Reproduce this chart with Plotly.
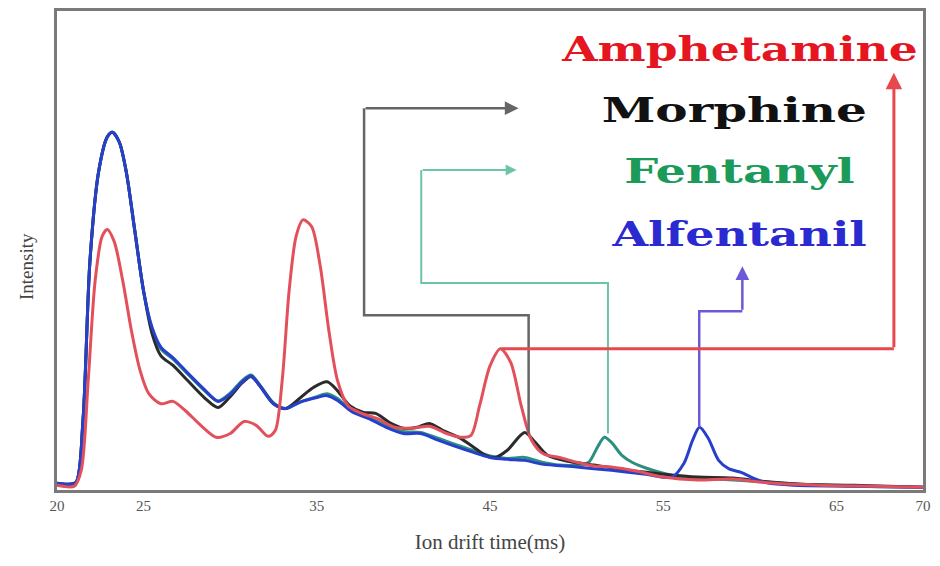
import plotly.graph_objects as go

# drift time (ms) / intensity (a.u.)
t_common = [20.0, 20.6, 21.1, 21.5, 21.9, 22.4, 22.9, 23.2, 23.6, 24.0, 24.5, 25.0, 25.5, 26.0,
            26.7, 27.5, 28.5, 29.3, 30.0, 30.7, 31.2, 31.7, 32.5, 33.2]

morphine_t = t_common + [34.0, 34.8, 35.6, 36.2, 36.9, 37.7, 38.4, 39.2, 40.0, 40.8, 41.5, 42.3,
                         43.2, 44.0, 44.7, 45.3, 46.0, 47.0, 47.6, 48.3, 49.5, 51.0, 53.0, 55.0,
                         57.0, 59.0, 61.0, 63.0, 66.0, 70.0]
morphine_i = [1.4, 1.2, 1.6, 14.5, 47.7, 66.4, 73.7, 74.7, 72.6, 66.4, 53.9, 41.5, 32.5, 28.0,
              26.0, 23.0, 19.3, 17.2, 19.5, 22.4, 23.7, 21.8, 18.0, 17.0,
              19.1, 21.4, 22.6, 20.7, 17.6, 16.2, 16.0, 14.1, 12.9, 13.1, 13.9, 12.4,
              11.0, 9.1, 7.3, 6.8, 8.3, 12.0, 10.0, 7.3, 6.0, 5.2, 4.1, 3.3,
              2.7, 2.5, 1.7, 1.2, 1.0, 0.6]

fentanyl_t = t_common + [34.0, 35.0, 35.6, 36.2, 37.0, 38.0, 39.0, 40.0, 41.0, 42.0, 43.0, 44.0,
                         45.0, 46.0, 47.0, 48.0, 49.0, 50.0, 50.7, 51.2, 51.6, 52.0, 52.6, 53.2,
                         54.0, 55.0, 56.0, 58.0, 60.0, 63.0, 66.0, 70.0]
fentanyl_i = [1.4, 1.2, 1.6, 14.5, 47.7, 66.4, 73.7, 74.7, 72.6, 66.4, 53.9, 41.5, 33.4, 29.4,
              27.3, 24.4, 20.8, 18.6, 20.2, 22.9, 24.0, 22.0, 18.2, 17.0,
              18.3, 19.5, 20.1, 19.1, 16.6, 15.1, 13.5, 12.2, 12.0, 10.8, 9.5, 8.3,
              7.1, 6.6, 6.8, 5.8, 5.2, 5.2, 5.8, 8.9, 11.0, 10.0, 7.3, 5.8,
              4.6, 3.5, 2.7, 2.3, 1.9, 1.2, 0.8, 0.6]

alfentanil_t = t_common + [34.0, 35.0, 35.6, 36.2, 37.0, 38.0, 39.0, 40.0, 41.0, 42.0, 43.0, 44.0,
                           45.0, 46.0, 47.0, 48.0, 50.0, 52.0, 54.0, 55.5, 56.2, 56.7, 57.1, 57.6,
                           58.2, 58.8, 59.5, 60.2, 61.0, 62.5, 66.0, 70.0]
alfentanil_i = [1.4, 1.2, 1.6, 14.5, 47.7, 66.4, 73.7, 74.7, 72.6, 66.4, 53.9, 41.5, 33.8, 29.8,
                27.6, 24.6, 21.0, 18.5, 20.0, 22.6, 23.8, 21.8, 18.0, 17.0,
                18.3, 19.3, 19.7, 18.7, 16.4, 14.9, 13.1, 11.8, 11.8, 10.4, 9.1, 7.9,
                6.8, 6.4, 6.2, 5.4, 4.8, 4.1, 3.3, 2.7, 5.6, 10.4, 13.1, 10.8,
                6.2, 4.4, 3.7, 2.5, 1.5, 1.0, 0.8, 0.6]

amphetamine_t = [20.0, 21.0, 21.4, 21.8, 22.2, 22.6, 22.9, 23.3, 23.8, 24.3, 24.8, 25.3, 26.0,
                 26.7, 27.4, 28.3, 29.2, 30.0, 30.8, 31.5, 32.2, 32.6, 33.0, 33.4, 33.8, 34.2,
                 34.7, 35.2, 35.7, 36.2, 36.8, 37.6, 38.5, 39.5, 40.5, 41.5, 42.5, 43.3, 43.9,
                 44.4, 45.0, 45.6, 46.2, 46.8, 47.4, 48.1, 49.0, 50.0, 51.0, 52.0, 53.5, 55.0,
                 57.0, 59.0, 61.0, 64.0, 70.0]
amphetamine_i = [1.0, 0.8, 4.1, 22.8, 43.6, 52.9, 54.4, 51.9, 43.6, 33.2, 24.9, 20.1, 18.0,
                 18.5, 16.6, 13.5, 11.0, 11.8, 14.3, 13.5, 11.2, 12.4, 22.8, 41.5, 52.9, 56.4,
                 55.0, 46.7, 33.2, 22.8, 17.6, 16.0, 14.9, 13.1, 12.9, 13.3, 11.8, 11.0, 11.4,
                 17.6, 25.9, 29.5, 26.6, 17.6, 10.4, 7.5, 6.8, 5.8, 5.0, 4.8, 3.9, 2.7,
                 2.1, 2.3, 1.5, 1.0, 0.6]

# bracket paths linking each characteristic peak to its label (last point = arrow tip)
morphine_link_t = [47.23, 47.23, 37.73, 37.73, 46.65]
morphine_link_i = [11.8, 36.5, 36.5, 79.7, 79.7]
fentanyl_link_t = [51.81, 51.81, 41.03, 41.03, 46.54]
fentanyl_link_i = [11.8, 43.2, 43.2, 66.8, 66.8]
amphetamine_link_t = [45.67, 68.32, 68.32]
amphetamine_link_i = [29.5, 29.5, 87.1]
alfentanil_link_t = [57.08, 57.08, 59.57, 59.57]
alfentanil_link_i = [13.1, 37.3, 37.3, 46.7]

tick_vals = [20, 25, 35, 45, 55, 65, 70]

curves = [
    ("Fentanyl", fentanyl_t, fentanyl_i, "#2e8f80"),
    ("Morphine", morphine_t, morphine_i, "#2b2b2b"),
    ("Alfentanil", alfentanil_t, alfentanil_i, "#2740cc"),
    ("Amphetamine", amphetamine_t, amphetamine_i, "#e2505c"),
]

links = [
    (morphine_link_t, morphine_link_i, "#666666", 2.5),
    (fentanyl_link_t, fentanyl_link_i, "#6cc5a6", 2),
    (alfentanil_link_t, alfentanil_link_i, "#6a5ad8", 2.5),
    (amphetamine_link_t, amphetamine_link_i, "#e8474c", 3),
]

labels = [
    ("Amphetamine", 59.4, 91.9, "#e5161f"),
    ("Morphine", 59.1, 79.3, "#111111"),
    ("Fentanyl", 59.4, 66.4, "#1b9a5a"),
    ("Alfentanil", 59.4, 53.3, "#2a2ad0"),
]

fig = go.Figure()

for name, xs, ys, col in curves:
    fig.add_trace(go.Scatter(x=xs, y=ys, mode="lines", name=name,
                             line=dict(color=col, width=3, shape="spline", smoothing=0.8),
                             showlegend=False))

annotations = []
for xs, ys, col, w in links:
    # all segments but the last as a plain line, last one as an arrow
    fig.add_trace(go.Scatter(x=xs[:-1], y=ys[:-1], mode="lines",
                             line=dict(color=col, width=w), showlegend=False, hoverinfo="skip"))
    annotations.append(dict(x=xs[-1], y=ys[-1], ax=xs[-2], ay=ys[-2], xref="x", yref="y",
                            axref="x", ayref="y", showarrow=True, arrowhead=2, arrowsize=1.1,
                            arrowwidth=w, arrowcolor=col, text=""))

for txt, x, y, col in labels:
    annotations.append(dict(x=x, y=y, xref="x", yref="y", text=txt, showarrow=False,
                            font=dict(family="DejaVu Serif", size=33, color=col, weight="bold")))

annotations.append(dict(x=-0.035, y=0.467, xref="paper", yref="paper", text="Intensity",
                        textangle=-90, showarrow=False, xanchor="center", yanchor="middle",
                        font=dict(family="Liberation Serif", size=19, color="#444444")))

fig.update_layout(
    width=940, height=566,
    margin=dict(l=57, r=17, t=8, b=76),
    paper_bgcolor="white", plot_bgcolor="white",
    annotations=annotations,
    xaxis=dict(range=[20, 70], tickvals=tick_vals, ticks="", showgrid=False, zeroline=False,
               showline=True, mirror=True, linecolor="#7a7a7a", linewidth=3,
               tickfont=dict(family="Liberation Serif", size=15, color="#555555"),
               title=dict(text="Ion drift time(ms)", standoff=22,
                          font=dict(family="Liberation Serif", size=21, color="#444444"))),
    yaxis=dict(range=[0, 100], showticklabels=False, ticks="", showgrid=False, zeroline=False,
               showline=True, mirror=True, linecolor="#7a7a7a", linewidth=3),
)

# page has a default body margin; the original lettering is also stretched wide
post_js = """
document.body.style.margin = '0';
var stretch = {'Amphetamine': 1.38, 'Morphine': 1.47, 'Fentanyl': 1.45, 'Alfentanil': 1.39};
document.querySelectorAll('.annotation-text').forEach(function (el) {
  var k = stretch[el.textContent];
  if (k) {
    el.style.transformBox = 'fill-box';
    el.style.transformOrigin = 'center';
    el.style.transform = 'scaleX(' + k + ')';
  }
});
"""

fig.write_html("out.html", post_script=post_js, config={"displayModeBar": False})
